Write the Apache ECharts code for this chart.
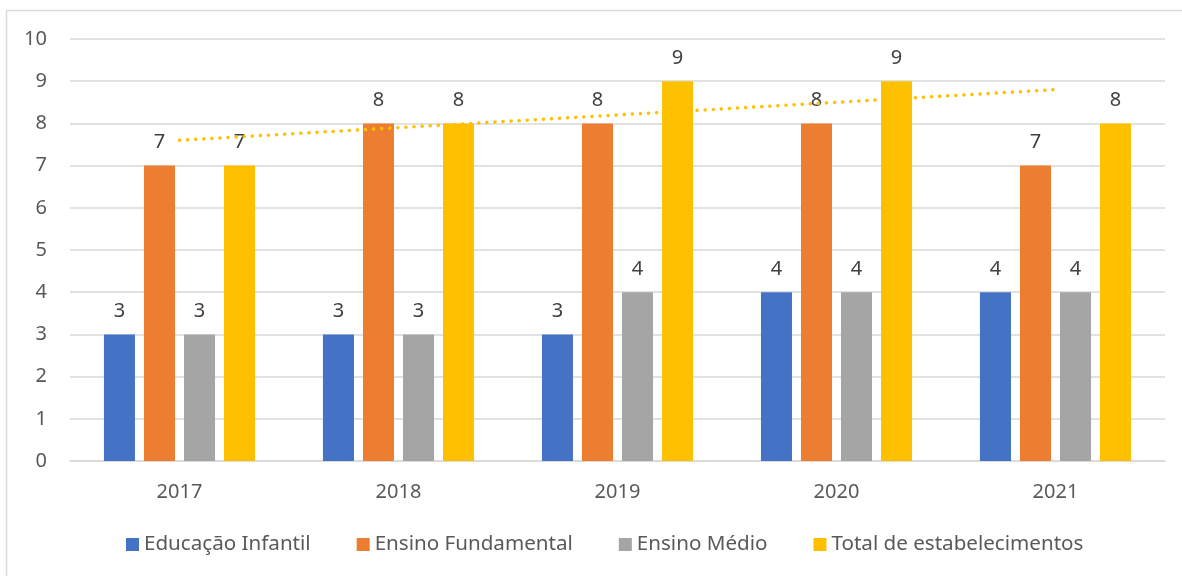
<!DOCTYPE html>
<html><head><meta charset="utf-8">
<script src="https://cdn.jsdelivr.net/npm/echarts@6/dist/echarts.min.js"></script>
<style>html,body{margin:0;padding:0;background:#fff}#c{width:1182px;height:576px}</style>
</head><body><div id="c"></div>
<script>
const categories = ['2017','2018','2019','2020','2021'];
const educacaoInfantil = [3,3,3,4,4];
const ensinoFundamental = [7,8,8,8,7];
const ensinoMedio = [3,3,4,4,4];
const totalEstabelecimentos = [7,8,9,9,8];
const trendTotal = [7.6,7.9,8.2,8.5,8.8];
const yTicks = {min:0,max:10,interval:1};

const FONT = 'Noto Sans, Open Sans, sans-serif';
const chart = echarts.init(document.getElementById('c'));
const lbl = {show:true, position:'top', distance:13, color:'#404040', fontSize:20, fontFamily:FONT};
function bar(name, data, color){
  return {name, type:'bar', data, itemStyle:{color}, barGap:'29%', barCategoryGap:'31%', label:lbl};
}
chart.setOption({
  animation:false,
  graphic:[{type:'rect', shape:{x:6.5,y:10.5,width:1180,height:570}, style:{fill:'none', stroke:'#d9d9d9', lineWidth:1.5}, silent:true}],
  grid:{left:70, right:17, top:39, bottom:115, containLabel:false},
  legend:{bottom:16, left:121, itemWidth:13, itemHeight:13, itemGap:46, icon:'rect',
    textStyle:{color:'#595959', fontSize:20.6, fontFamily:FONT},
    data:['Educação Infantil','Ensino Fundamental','Ensino Médio','Total de estabelecimentos']},
  xAxis:{type:'category', data:categories, axisTick:{show:false},
    axisLine:{lineStyle:{color:'#d9d9d9', width:1.5}},
    axisLabel:{color:'#595959', fontSize:20, fontFamily:FONT, margin:21}},
  yAxis:{type:'value', min:yTicks.min, max:yTicks.max, interval:yTicks.interval,
    axisLine:{show:false}, axisTick:{show:false},
    splitLine:{lineStyle:{color:'#d9d9d9', width:1.5}},
    axisLabel:{color:'#595959', fontSize:20, fontFamily:FONT, margin:23}},
  series:[
    bar('Educação Infantil', educacaoInfantil, '#4472c4'),
    bar('Ensino Fundamental', ensinoFundamental, '#ed7d31'),
    bar('Ensino Médio', ensinoMedio, '#a5a5a5'),
    bar('Total de estabelecimentos', totalEstabelecimentos, '#ffc000'),
    {name:'Linear (Total)', type:'line', data:trendTotal, symbol:'none', z:5,
     lineStyle:{color:'#ffc000', width:3.5, type:[0.1,8], cap:'round'}}
  ]
});
</script></body></html>
